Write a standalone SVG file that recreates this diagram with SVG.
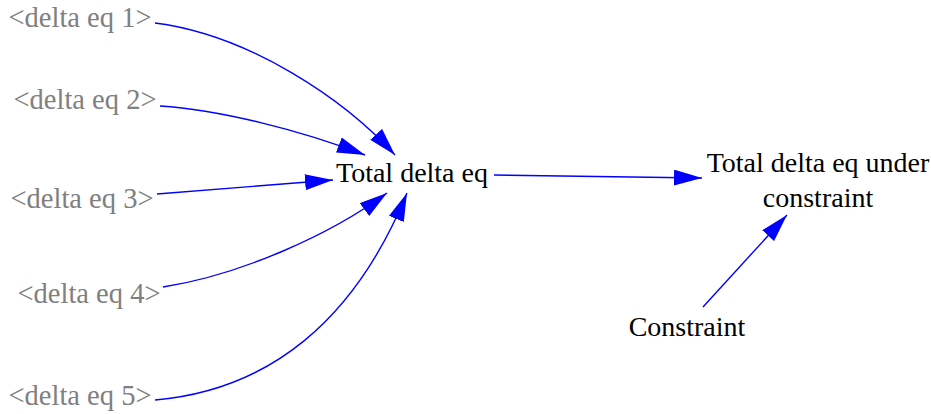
<svg xmlns="http://www.w3.org/2000/svg" width="931" height="414" viewBox="0 0 931 414">
<style>
  text { font-family: "Liberation Serif", "Times New Roman", serif; font-size: 28px; }
  .shadow { fill: #808080; font-size: 28.5px; }
  .main { fill: #000000; }
  .edge { fill: none; stroke: #0000ff; stroke-width: 1.4; marker-end: url(#arrow); }
</style>
<defs>
  <marker id="arrow" markerUnits="userSpaceOnUse" markerWidth="28" markerHeight="16" refX="28" refY="8" orient="auto">
    <path d="M0,0 L28,8 L0,16 z" fill="#0000ff"/>
  </marker>
</defs>
<rect width="931" height="414" fill="#ffffff"/>
<g id="connectors">
  <path class="edge" d="M155,23 C250,35 345,100 395,155"/>
  <path class="edge" d="M160,106 C220,110 300,130 365,155"/>
  <path class="edge" d="M157,194 L333,180"/>
  <path class="edge" d="M163,287 C240,275 330,235 387,193"/>
  <path class="edge" d="M155,400 C270,390 355,320 407,193"/>
  <path class="edge" d="M494,175 L702,178"/>
  <path class="edge" d="M703,307 L787,215"/>
</g>
<g id="delta-eq-1"><text class="shadow" x="80" y="27" text-anchor="middle">&lt;delta eq 1&gt;</text></g>
<g id="delta-eq-2"><text class="shadow" x="85" y="109" text-anchor="middle">&lt;delta eq 2&gt;</text></g>
<g id="delta-eq-3"><text class="shadow" x="82" y="208" text-anchor="middle">&lt;delta eq 3&gt;</text></g>
<g id="delta-eq-4"><text class="shadow" x="89" y="303" text-anchor="middle">&lt;delta eq 4&gt;</text></g>
<g id="delta-eq-5"><text class="shadow" x="80" y="405" text-anchor="middle">&lt;delta eq 5&gt;</text></g>
<g id="total-delta-eq"><text class="main" x="412" y="182" text-anchor="middle">Total delta eq</text></g>
<g id="total-delta-eq-under-constraint">
  <text class="main" x="818" y="172" text-anchor="middle">Total delta eq under</text>
  <text class="main" x="818" y="207" text-anchor="middle">constraint</text>
</g>
<g id="constraint"><text class="main" x="687" y="336" text-anchor="middle">Constraint</text></g>
</svg>
